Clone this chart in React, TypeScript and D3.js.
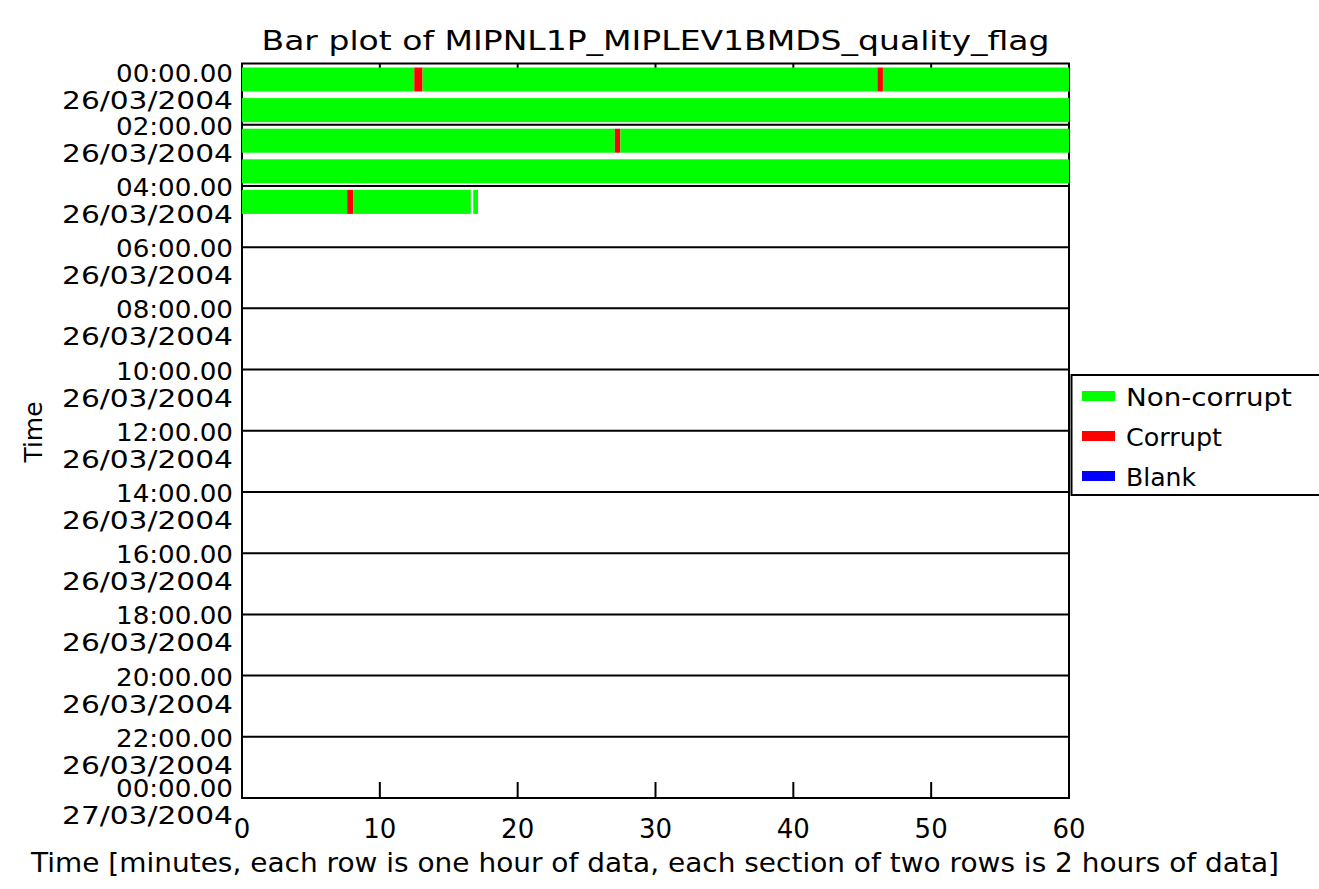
import React from "react";
import * as d3 from "d3";

const titleText = "Bar plot of MIPNL1P_MIPLEV1BMDS_quality_flag";
const xTitle = "Time [minutes, each row is one hour of data, each section of two rows is 2 hours of data]";
const yTitle = "Time";

const xTicks = [0, 10, 20, 30, 40, 50, 60];
const sectionTimes = ["00:00.00", "02:00.00", "04:00.00", "06:00.00", "08:00.00", "10:00.00", "12:00.00", "14:00.00", "16:00.00", "18:00.00", "20:00.00", "22:00.00", "00:00.00"];
const sectionDates = ["26/03/2004", "26/03/2004", "26/03/2004", "26/03/2004", "26/03/2004", "26/03/2004", "26/03/2004", "26/03/2004", "26/03/2004", "26/03/2004", "26/03/2004", "26/03/2004", "27/03/2004"];

const flagNames = ["Non-corrupt", "Corrupt", "Blank"];
const flagColors = ["#00ff00", "#ff0000", "#0000ff"];
const flagLabelWidths = [166, 96, 70];

// segments: row (hour index), start minute, end minute, flag index
const segRow = [0, 0, 0, 0, 0, 1, 2, 2, 2, 3, 4, 4, 4, 4];
const segStart = [0, 12.5, 13.1, 46.1, 46.5, 0, 0, 27.05, 27.45, 0, 0, 7.63, 8.07, 16.78];
const segEnd = [12.5, 13.1, 46.1, 46.5, 60, 60, 27.05, 27.45, 60, 60, 7.63, 8.07, 16.6, 17.12];
const segFlag = [0, 1, 0, 1, 0, 0, 0, 1, 0, 0, 0, 1, 0, 0];

const nRows = 24;

export default function App() {
  const W = 1319, H = 889;
  const left = 242, right = 1069, top = 63.5, bottom = 798;
  const x = d3.scaleLinear().domain([0, 60]).range([left, right]);
  const y = d3.scaleLinear().domain([0, nRows]).range([top, bottom]);
  const font = "'DejaVu Sans', sans-serif";
  const sections = d3.range(0, nRows + 1, 2);
  const segs = segRow.map((r, i) => ({ r, s: segStart[i], e: segEnd[i], f: segFlag[i] }));
  const labelShift = (i: number) => (i === 0 ? 9 : i === sections.length - 1 ? -10 : 1);

  return (
    <svg width={W} height={H} style={{ position: "absolute", left: 0, top: 0, background: "#fff" }} fontFamily={font}>
      <rect x={0} y={0} width={W} height={H} fill="#fff" />
      {/* section lines */}
      {sections.slice(1, -1).map((s) => (
        <line key={"s" + s} x1={left} x2={right} y1={y(s)} y2={y(s)} stroke="#000" strokeWidth={2} />
      ))}
      {/* x ticks */}
      {xTicks.map((t) => (
        <g key={"xt" + t}>
          <line x1={x(t)} x2={x(t)} y1={bottom} y2={bottom - 16} stroke="#000" strokeWidth={2} />
          <line x1={x(t)} x2={x(t)} y1={top} y2={top + 16} stroke="#000" strokeWidth={2} />
        </g>
      ))}
      {/* frame */}
      <rect x={left} y={top} width={right - left} height={bottom - top} fill="none" stroke="#000" strokeWidth={2} />
      {/* bars */}
      {segs.map((d, i) => (
        <rect key={"b" + i} x={x(d.s)} y={y(d.r) + 4} width={Math.max(0, x(d.e) - x(d.s))} height={24} fill={flagColors[d.f]} />
      ))}
      {/* y labels */}
      {sections.map((s, i) => (
        <g key={"yl" + i}>
          <text x={233} y={y(s) + labelShift(i)} dy="0.36em" textAnchor="end" fontSize={25} textLength={117} lengthAdjust="spacingAndGlyphs">{sectionTimes[i]}</text>
          <text x={233} y={y(s) + labelShift(i) + 27} dy="0.36em" textAnchor="end" fontSize={25} textLength={171} lengthAdjust="spacingAndGlyphs">{sectionDates[i]}</text>
        </g>
      ))}
      {/* x tick labels */}
      {xTicks.map((t) => (
        <text key={"xl" + t} x={x(t)} y={829} dy="0.36em" textAnchor="middle" fontSize={26}>{t}</text>
      ))}
      {/* titles */}
      <text x={(left + right) / 2} y={40} dy="0.36em" textAnchor="middle" fontSize={27} textLength={788} lengthAdjust="spacingAndGlyphs">{titleText}</text>
      <text x={655} y={862} dy="0.36em" textAnchor="middle" fontSize={27} textLength={1248} lengthAdjust="spacingAndGlyphs">{xTitle}</text>
      <text transform={`translate(33,432) rotate(-90)`} dy="0.36em" textAnchor="middle" fontSize={25}>{yTitle}</text>
      {/* legend */}
      <rect x={1071.5} y={375} width={260} height={120} fill="#fff" stroke="#000" strokeWidth={2} />
      {flagNames.map((n, i) => (
        <g key={"lg" + i}>
          <rect x={1082} y={391 + i * 40} width={33} height={10} fill={flagColors[i]} />
          <text x={1126} y={397 + i * 40} dy="0.36em" fontSize={24} textLength={flagLabelWidths[i]} lengthAdjust="spacingAndGlyphs">{n}</text>
        </g>
      ))}
    </svg>
  );
}
